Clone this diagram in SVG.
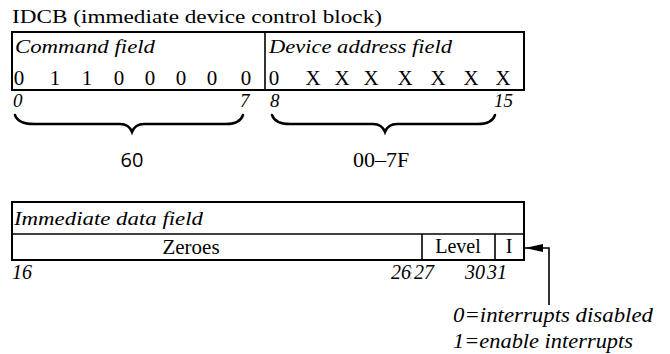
<svg xmlns="http://www.w3.org/2000/svg" width="670" height="354" viewBox="0 0 670 354">
<style>
.t{font-family:"Liberation Serif","Times New Roman",serif;fill:#000}
.i{font-family:"Liberation Serif","Times New Roman",serif;font-style:italic;fill:#000}
.box{fill:none;stroke:#000;stroke-width:2}
.ln{stroke:#000;stroke-width:1.6;fill:none}
.br{fill:none;stroke:#000;stroke-width:2.4;stroke-linecap:round}
</style>
<defs>
<marker id="ah" viewBox="0 0 18 8" refX="18" refY="4" markerWidth="18" markerHeight="8" orient="auto" markerUnits="userSpaceOnUse">
<path d="M0,0 L18,4 L0,8 z" fill="#000"/>
</marker>
</defs>
<rect width="670" height="354" fill="#fff"/>
<text class="t" x="12" y="23" font-size="18" textLength="370" lengthAdjust="spacingAndGlyphs">IDCB (immediate device control block)</text>

<g id="idcb-word">
<rect class="box" x="12" y="32" width="512" height="58"/>
<line class="ln" x1="265" y1="32" x2="265" y2="90"/>
<text class="i" x="15" y="53" font-size="19" textLength="140" lengthAdjust="spacingAndGlyphs">Command field</text>
<text class="i" x="269" y="53" font-size="19" textLength="183" lengthAdjust="spacingAndGlyphs">Device address field</text>
<g class="t" font-size="21" text-anchor="middle">
<text x="19" y="85">0</text><text x="55" y="85">1</text><text x="87" y="85">1</text><text x="119" y="85">0</text>
<text x="150" y="85">0</text><text x="181" y="85">0</text><text x="212" y="85">0</text><text x="246" y="85">0</text>
<text x="274" y="85">0</text><text x="313" y="85">X</text><text x="342" y="85">X</text><text x="371" y="85">X</text>
<text x="405" y="85">X</text><text x="438" y="85">X</text><text x="471" y="85">X</text><text x="503" y="85">X</text>
</g>
</g>

<g id="bit-labels-top" class="i" font-size="19">
<text x="13" y="107">0</text>
<text x="240" y="107">7</text>
<text x="270" y="107">8</text>
<text x="494" y="107">15</text>
</g>

<g id="brace-command">
<path class="br" d="M15,115 Q18,124 34,124 L120,124 Q129,124 132,132 Q135,124 144,124 L226,124 Q240,124 243,115"/>
<text x="132" y="167" font-family="'Open Sans','Liberation Sans',sans-serif" font-size="20" text-anchor="middle" fill="#000">60</text>
</g>
<g id="brace-device">
<path class="br" d="M272,115 Q275,124 290,124 L373,124 Q382,124 385,132 Q388,124 397,124 L478,124 Q492,124 495,115"/>
<text class="t" x="381" y="167" font-size="22" text-anchor="middle">00–7F</text>
</g>

<g id="immediate-word">
<rect class="box" x="12" y="202" width="512" height="58"/>
<line class="ln" x1="12" y1="234" x2="524" y2="234"/>
<line class="ln" x1="422" y1="234" x2="422" y2="260"/>
<line class="ln" x1="495" y1="234" x2="495" y2="260"/>
<text class="i" x="14" y="225" font-size="19" textLength="189" lengthAdjust="spacingAndGlyphs">Immediate data field</text>
<text class="t" x="191" y="254" font-size="21" text-anchor="middle">Zeroes</text>
<text class="t" x="458" y="253" font-size="20" text-anchor="middle">Level</text>
<text class="t" x="509" y="253" font-size="20" text-anchor="middle">I</text>
</g>

<g id="bit-labels-bottom" class="i" font-size="20">
<text x="12" y="279">16</text>
<text x="391" y="279">26</text>
<text x="414" y="279">27</text>
<text x="465" y="279">30</text>
<text x="487" y="279">31</text>
</g>
<g fill="#777">
<circle cx="411" cy="268" r="0.7"/><circle cx="411" cy="273" r="0.7"/><circle cx="411" cy="278" r="0.7"/>
</g>

<g id="connectors">
<path class="ln" stroke-width="2" d="M549,305 L549,248 L525,248" marker-end="url(#ah)"/>
</g>

<g id="note" class="i" font-size="21">
<text x="453" y="322" textLength="200" lengthAdjust="spacingAndGlyphs">0=interrupts disabled</text>
<text x="453" y="348" textLength="180" lengthAdjust="spacingAndGlyphs">1=enable interrupts</text>
</g>
</svg>
